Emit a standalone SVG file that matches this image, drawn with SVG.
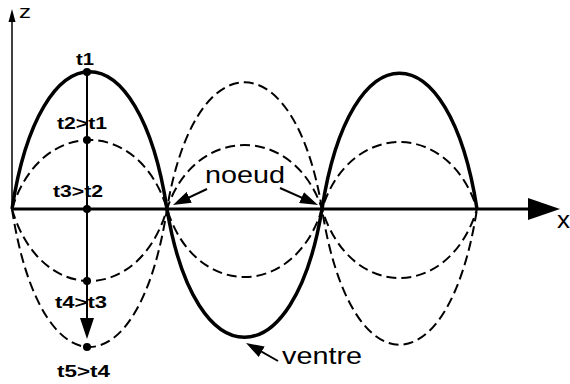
<svg xmlns="http://www.w3.org/2000/svg" width="570" height="384" viewBox="0 0 570 384">
<defs>
<style>
.solid{fill:none;stroke:#000;stroke-width:3.5;stroke-linejoin:round}
.dash{fill:none;stroke:#000;stroke-width:2;stroke-dasharray:10 5}
.axis{stroke:#000;fill:none}
.ptr{stroke:#000;stroke-width:2;fill:none}
.lbl{font-family:"Liberation Sans",Arial,sans-serif;font-size:17px;font-weight:bold;fill:#000}
.big{font-family:"Liberation Sans",Arial,sans-serif;font-size:24px;fill:#000}
.dot{fill:#000}
</style>
<marker id="ah" markerUnits="userSpaceOnUse" markerWidth="18" markerHeight="12" refX="10" refY="6" orient="auto">
<path d="M0,0 L18,6 L0,12 Z" fill="#000"/>
</marker>
</defs>
<rect width="570" height="384" fill="#fff"/>
<g id="axes">
<line class="axis" x1="12" y1="209" x2="530" y2="209" stroke-width="3"/>
<polygon points="528,198 560,209 528,220" fill="#000"/>
<line class="axis" x1="12" y1="210" x2="12" y2="20" stroke-width="1.5"/>
<polygon points="8.5,22 12,9 15.5,22" fill="#000"/>
<text class="big" x="557" y="228" textLength="13" lengthAdjust="spacingAndGlyphs">x</text>
<text class="big" x="19" y="18" style="font-size:19px" textLength="12" lengthAdjust="spacingAndGlyphs">z</text>
</g>
<g id="curves">
<path id="wave-t1" class="solid" d="M12,209 C40,26 139,26 167,209 C195,380 294,380 322,209 C350,28 449,28 477,209"/>
<path id="wave-t5" class="dash" d="M12,209 C40,393 139,393 167,209 C195,40 294,40 322,209 C350,390 449,390 477,209"/>
<path id="wave-t2" class="dash" d="M12,209 C40,117 139,117 167,209 C195,299.7 294,299.7 322,209 C350,119.7 449,119.7 477,209"/>
<path id="wave-t4" class="dash" d="M12,209 C40,305 139,305 167,209 C195,123.7 294,123.7 322,209 C350,301 449,301 477,209"/>
</g>
<g id="connectors">
<line class="ptr" x1="87" y1="72" x2="87" y2="320"/>
<polygon points="80,318 87,339 94,318" fill="#000"/>
<line class="ptr" x1="207" y1="189" x2="180.2" y2="201.6" marker-end="url(#ah)"/>
<line class="ptr" x1="280" y1="188" x2="310.7" y2="201.7" marker-end="url(#ah)"/>
<line class="ptr" x1="278" y1="361" x2="253" y2="346.9" marker-end="url(#ah)"/>
</g>
<g id="points">
<circle class="dot" cx="87" cy="72" r="4"/>
<circle class="dot" cx="87" cy="140" r="4"/>
<circle class="dot" cx="87" cy="209" r="4"/>
<circle class="dot" cx="87" cy="281" r="4"/>
<circle class="dot" cx="87" cy="347" r="4"/>
</g>
<g id="labels">
<text class="lbl" x="76" y="65" textLength="18" lengthAdjust="spacingAndGlyphs">t1</text>
<text class="lbl" x="57" y="129" textLength="50" lengthAdjust="spacingAndGlyphs">t2&gt;t1</text>
<text class="lbl" x="53" y="197" textLength="50" lengthAdjust="spacingAndGlyphs">t3&gt;t2</text>
<text class="lbl" x="55" y="308" textLength="52" lengthAdjust="spacingAndGlyphs">t4&gt;t3</text>
<text class="lbl" x="57" y="377" textLength="53" lengthAdjust="spacingAndGlyphs">t5&gt;t4</text>
<text class="big" x="205" y="183" textLength="80" lengthAdjust="spacingAndGlyphs">noeud</text>
<text class="big" x="282" y="364" textLength="80" lengthAdjust="spacingAndGlyphs">ventre</text>
</g>
</svg>
